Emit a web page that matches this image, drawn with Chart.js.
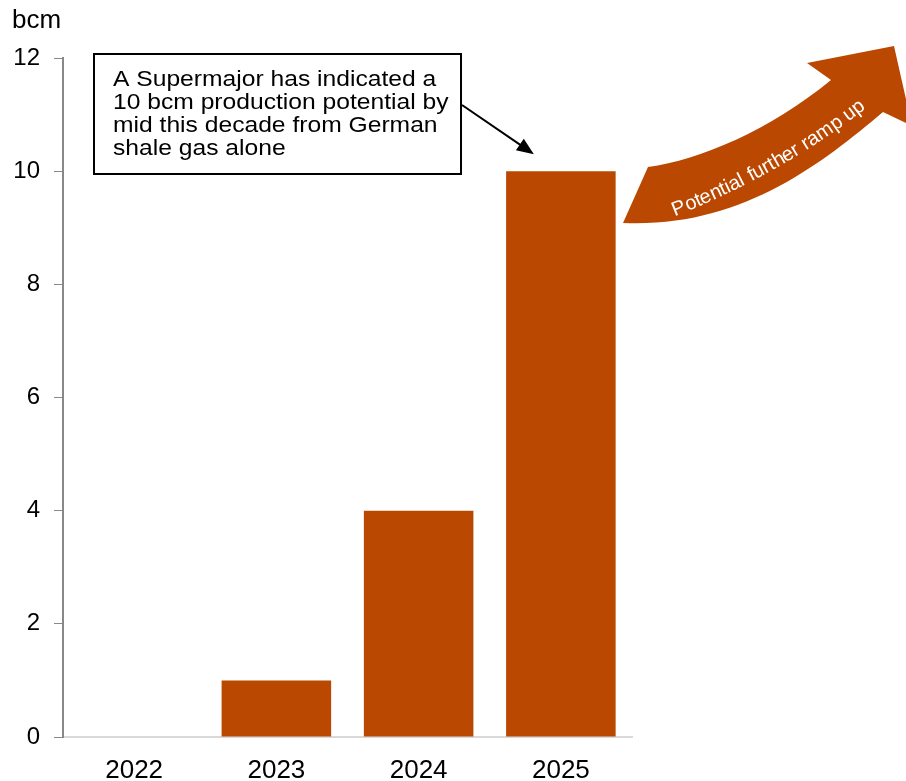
<!DOCTYPE html>
<html>
<head>
  <title>German shale gas</title>
  <script src="https://cdn.jsdelivr.net/npm/chart.js@4/dist/chart.umd.min.js"></script>
  <style>
    body { margin: 0; background: white; }
    #wrap { width: 906px; height: 781px; position: relative; }
  </style>
</head>
<body>
  <div id="wrap"><canvas id="gasChart"></canvas></div>
  <script>
    const years = ['2022', '2023', '2024', '2025'];
    const production = [0, 1, 4, 10];
    const yTicks = [0, 2, 4, 6, 8, 10, 12];
    const unitLabel = 'bcm';
    const calloutLines = [
      'A Supermajor has indicated a',
      '10 bcm production potential by',
      'mid this decade from German',
      'shale gas alone'
    ];
    const arrowText = 'Potential further ramp up';

    const barColor = '#BB4800';
    const FONT = '"Liberation Sans", Arial, sans-serif';

    // extra drawing: unit label, callout box, curved arrow
    const extras = {
      id: 'extras',
      afterDraw(chart) {
        const ctx = chart.ctx;
        const x = chart.scales.x, y = chart.scales.y;
        ctx.save();

        // unit label
        ctx.fillStyle = '#000';
        ctx.font = '26px ' + FONT;
        ctx.textBaseline = 'alphabetic';
        ctx.fillText(unitLabel, 12, 28);

        // callout box
        const bx = 94, by = 54, bw = 367, bh = 120;
        ctx.fillStyle = '#fff';
        ctx.fillRect(bx, by, bw, bh);
        ctx.strokeStyle = '#000';
        ctx.lineWidth = 2;
        ctx.strokeRect(bx, by, bw, bh);
        ctx.fillStyle = '#000';
        ctx.font = '22px ' + FONT;
        calloutLines.forEach((l, i) => {
          ctx.save();
          ctx.translate(bx + 19, by + 32 + i * 23);
          ctx.scale(1.12, 1);
          ctx.fillText(l, 0, 0);
          ctx.restore();
        });

        // pointer to 2025 bar
        const tx = x.getPixelForValue(3) - 27, ty = y.getPixelForValue(10) - 17;
        const sx = bx + bw + 1, sy = by + 51;
        const ang = Math.atan2(ty - sy, tx - sx);
        ctx.beginPath();
        ctx.moveTo(sx, sy);
        ctx.lineTo(tx - 12 * Math.cos(ang), ty - 12 * Math.sin(ang));
        ctx.lineWidth = 2;
        ctx.stroke();
        ctx.beginPath();
        ctx.moveTo(tx, ty);
        ctx.lineTo(tx - 17 * Math.cos(ang) + 7 * Math.sin(ang), ty - 17 * Math.sin(ang) - 7 * Math.cos(ang));
        ctx.lineTo(tx - 17 * Math.cos(ang) - 7 * Math.sin(ang), ty - 17 * Math.sin(ang) + 7 * Math.cos(ang));
        ctx.closePath();
        ctx.fill();

        // curved arrow
        ctx.fillStyle = barColor;
        ctx.beginPath();
        ctx.moveTo(623, 223);
        ctx.lineTo(648, 167);
        ctx.bezierCurveTo(700, 160, 770, 130, 831, 80);
        ctx.lineTo(807, 63);
        ctx.lineTo(894, 46);
        ctx.lineTo(912, 126);
        ctx.lineTo(883, 112);
        ctx.bezierCurveTo(820, 165, 740, 228, 623, 223);
        ctx.closePath();
        ctx.fill();

        // text along curve
        const p0 = [660, 222], p1 = [785, 175], p2 = [880, 97];
        const pt = t => [
          (1 - t) * (1 - t) * p0[0] + 2 * (1 - t) * t * p1[0] + t * t * p2[0],
          (1 - t) * (1 - t) * p0[1] + 2 * (1 - t) * t * p1[1] + t * t * p2[1]
        ];
        const samples = [];
        let len = 0, prev = pt(0);
        for (let i = 0; i <= 200; i++) {
          const p = pt(i / 200);
          len += Math.hypot(p[0] - prev[0], p[1] - prev[1]);
          samples.push([len, p]);
          prev = p;
        }
        const at = d => {
          let k = samples.findIndex(s => s[0] >= d);
          if (k < 1) k = 1;
          const a = samples[k - 1][1], b = samples[k][1];
          return [a, Math.atan2(b[1] - a[1], b[0] - a[0])];
        };
        ctx.font = '20px ' + FONT;
        ctx.fillStyle = '#fff';
        const total = ctx.measureText(arrowText).width;
        let d = Math.max(0, (len - total) / 2);
        for (const ch of arrowText) {
          const w = ctx.measureText(ch).width;
          const [p, a] = at(d + w / 2);
          ctx.save();
          ctx.translate(p[0], p[1]);
          ctx.rotate(a);
          ctx.fillText(ch, -w / 2, 0);
          ctx.restore();
          d += w;
        }
        ctx.restore();
      }
    };

    new Chart(document.getElementById('gasChart'), {
      type: 'bar',
      data: {
        labels: years,
        datasets: [{
          data: production,
          backgroundColor: barColor,
          borderWidth: 0,
          barPercentage: 0.77,
          categoryPercentage: 1
        }]
      },
      options: {
        responsive: true,
        maintainAspectRatio: false,
        animation: false,
        layout: { padding: { top: 58, right: 274, left: 0, bottom: 0 } },
        plugins: { legend: { display: false }, tooltip: { enabled: false } },
        scales: {
          x: {
            grid: { display: false },
            border: { color: '#d9d9d9', width: 2 },
            ticks: { color: '#000', font: { family: FONT, size: 26 }, padding: 10 },
            afterFit(s) { s.height = 44; }
          },
          y: {
            min: 0,
            max: 12,
            afterBuildTicks(s) { s.ticks = yTicks.map(v => ({ value: v })); },
            grid: { drawOnChartArea: false, color: '#888', tickLength: 9 },
            border: { color: '#888', width: 2 },
            ticks: { color: '#000', font: { family: FONT, size: 24 }, padding: 14 },
            afterFit(s) { s.width = 63; }
          }
        }
      },
      plugins: [extras]
    });
  </script>
</body>
</html>
